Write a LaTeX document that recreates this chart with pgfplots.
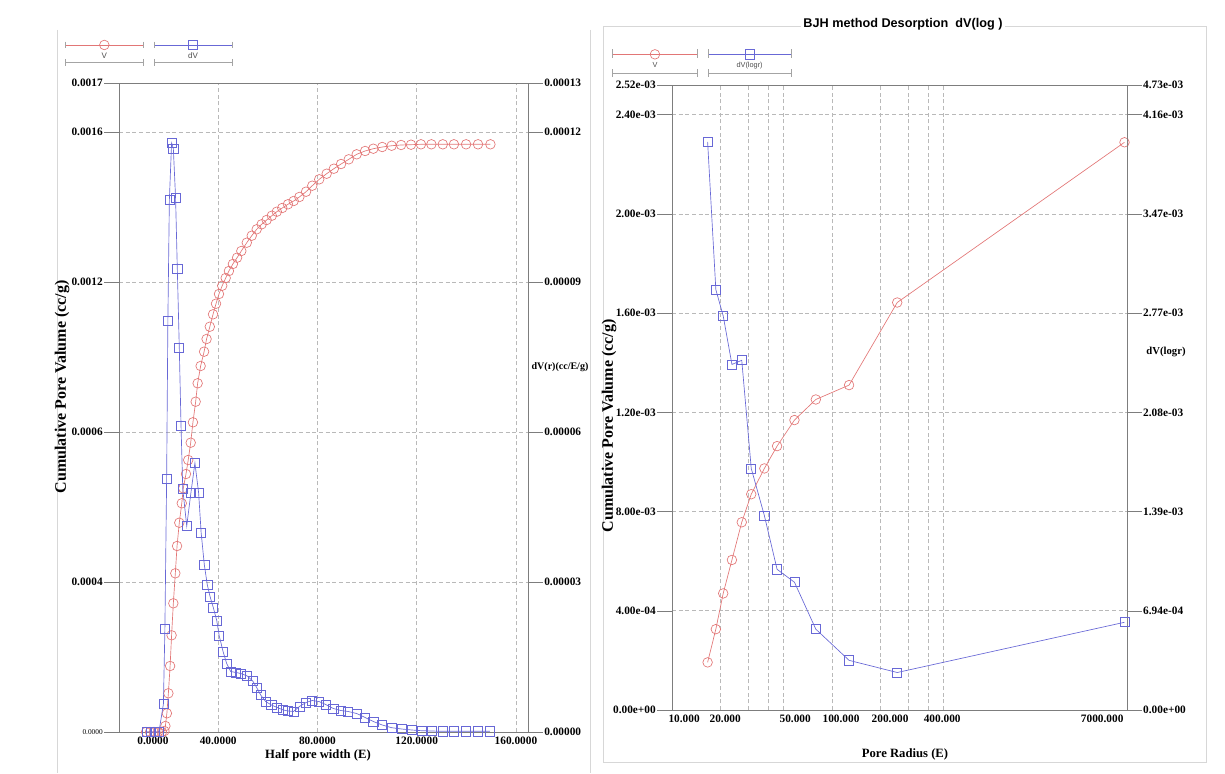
\documentclass[border=0pt]{standalone}
\usepackage{pgfplots}
\pgfplotsset{compat=1.18}
\usepackage{fontspec}
\setmainfont{Liberation Serif}
\newfontfamily\arial{Liberation Sans}
\definecolor{vred}{RGB}{226,118,118}
\definecolor{dvblue}{RGB}{104,104,214}
\definecolor{gridc}{RGB}{185,185,185}
\definecolor{framec}{RGB}{125,125,125}
\definecolor{boxc}{RGB}{215,215,215}

\pgfplotsset{
  panel/.style={
    scale only axis,
    scaled x ticks=false, scaled y ticks=false,
    axis line style={framec, line width=0.6pt},
    tick style={framec, line width=0.4pt},
    tick align=outside,
    major tick length=11pt,
    ticklabel style={font=\bfseries\fontsize{8.5}{10}\selectfont, text=black, inner sep=1pt},
    grid style={gridc, densely dashed, line width=0.45pt},
  },
  vstyle/.style={color=vred, line width=0.5pt, mark=o, mark size=3.6pt, mark options={line width=0.5pt}},
  dvstyle/.style={color=dvblue, line width=0.5pt, mark=square, mark size=3.4pt, mark options={line width=0.5pt}},
}

\begin{document}
\begin{tikzpicture}[x=0.75pt,y=-0.75pt]
\path (0,0) rectangle (1225,773);
% light panel borders
\draw[boxc, line width=0.6pt] (57,30) -- (57,773);
\draw[boxc, line width=0.6pt] (590,30) -- (590,773);
\draw[boxc, line width=0.6pt] (603,26) rectangle (1206,762);

% ---------------- LEFT PANEL ----------------
\begin{axis}[panel,
  at={(89.25pt,-549pt)}, anchor=south west,
  width=306.75pt, height=486.75pt,
  xmin=0, xmax=164.85, ymin=0, ymax=0.0017,
  xtick={40,80,120,160},
  xticklabels={40.0000,80.0000,120.0000,160.0000},
  extra x ticks={13.7}, extra x tick labels={0.0000},
  extra x tick style={grid=none},
  xtick style={draw=none},
  xticklabel style={yshift=8.5pt},
  ytick={0,0.0003929,0.0007858,0.0011787,0.0015716,0.0017},
  yticklabels={{\fontsize{5.5}{6}\selectfont\mdseries 0.0000},0.0004,0.0006,0.0012,0.0016,0.0017},
  xmajorgrids, ymajorgrids,
  legend columns=2,
  legend style={at={(-0.132,1.066)}, anchor=north west, draw=none, fill=none,
    inner sep=0pt, outer sep=0pt, /tikz/every even column/.append style={column sep=3.5pt}},
]
\addplot[vstyle, legend image code/.code={
   \draw[vred, line width=0.5pt] (0pt,0pt) -- (58.5pt,0pt);
   \draw[vred, line width=0.5pt, mark=o, mark size=3.6pt] plot coordinates {(29.25pt,0pt)};
   \draw[framec!70, line width=0.4pt] (0pt,-13pt) -- (58.5pt,-13pt);
   \draw[framec!70, line width=0.4pt] (0pt,2.5pt) -- (0pt,-2.5pt) (58.5pt,2.5pt) -- (58.5pt,-2.5pt);
   \draw[framec!70, line width=0.4pt] (0pt,-10.5pt) -- (0pt,-15.5pt) (58.5pt,-10.5pt) -- (58.5pt,-15.5pt);
   \node[font=\arial\fontsize{6}{7}\selectfont, text=black!70, inner sep=0pt] at (29.25pt,-8.5pt) {V};
 }] coordinates {
(10.9,0) (12.5,0) (14.1,0) (15.7,0) (17.3,0) (18.3,2.6e-6) (18.7,1.57e-5) (19.3,4.90e-5)
(19.9,1.014e-4) (20.6,1.729e-4) (21.2,2.533e-4) (21.9,3.371e-4) (22.7,4.157e-4) (23.4,4.872e-4)
(24.3,5.482e-4) (25.3,5.991e-4) (25.9,6.384e-4) (27.0,6.758e-4) (27.9,7.125e-4) (28.9,7.578e-4)
(29.8,8.112e-4) (30.9,8.652e-4) (31.7,9.134e-4) (32.9,9.587e-4) (34.3,9.962e-4) (35.3,1.0294e-3)
(36.6,1.0616e-3) (37.9,1.0941e-3) (39.1,1.1219e-3) (40.3,1.1473e-3) (41.6,1.1690e-3) (43.0,1.1892e-3)
(44.3,1.2075e-3) (45.9,1.2259e-3) (47.6,1.2424e-3) (49.3,1.2599e-3) (51.5,1.2817e-3) (53.5,1.3000e-3)
(55.5,1.3168e-3) (57.5,1.3299e-3) (59.5,1.3411e-3) (61.6,1.3524e-3) (63.6,1.3629e-3) (65.8,1.3726e-3)
(68.1,1.3823e-3) (70.4,1.3909e-3) (72.7,1.4014e-3) (75.4,1.4153e-3) (77.9,1.4310e-3) (80.7,1.4477e-3)
(83.7,1.4624e-3) (86.6,1.4755e-3) (89.5,1.4878e-3) (92.6,1.5001e-3) (95.8,1.5132e-3) (99.2,1.5219e-3)
(102.5,1.5279e-3) (106.1,1.5323e-3) (109.9,1.5357e-3) (113.7,1.5376e-3) (117.7,1.5384e-3) (121.7,1.5394e-3)
(125.9,1.5394e-3) (130.5,1.5394e-3) (135.0,1.5394e-3) (139.9,1.5394e-3) (144.7,1.5394e-3) (149.7,1.5394e-3)
};
\addlegendentry{}
\addlegendimage{dvstyle, legend image code/.code={
   \draw[dvblue, line width=0.5pt] (0pt,0pt) -- (58.5pt,0pt);
   \draw[dvblue, line width=0.5pt, mark=square, mark size=3.4pt] plot coordinates {(29.25pt,0pt)};
   \draw[framec!70, line width=0.4pt] (0pt,-13pt) -- (58.5pt,-13pt);
   \draw[framec!70, line width=0.4pt] (0pt,2.5pt) -- (0pt,-2.5pt) (58.5pt,2.5pt) -- (58.5pt,-2.5pt);
   \draw[framec!70, line width=0.4pt] (0pt,-10.5pt) -- (0pt,-15.5pt) (58.5pt,-10.5pt) -- (58.5pt,-15.5pt);
   \node[font=\arial\fontsize{6}{7}\selectfont, text=black!70, inner sep=0pt] at (29.25pt,-8.5pt) {dV};
 }}
\addlegendentry{}
\end{axis}

\begin{axis}[panel,
  at={(89.25pt,-549pt)}, anchor=south west,
  width=306.75pt, height=486.75pt,
  xmin=0, xmax=164.85, ymin=0, ymax=0.0001298,
  axis x line=none, axis y line*=right,
  ytick={0,0.00003,0.00006,0.00009,0.00012,0.0001298},
  yticklabels={0.00000,0.00003,0.00006,0.00009,0.00012,0.00013},
]
\addplot[dvstyle] coordinates {
(11.3,0) (12.9,0) (14.5,0) (16.1,0) (17.9,5.6e-6) (18.5,2.07e-5) (19.2,5.06e-5) (19.7,8.23e-5)
(20.3,1.064e-4) (21.2,1.178e-4) (21.9,1.167e-4) (22.8,1.069e-4) (23.5,9.27e-5) (24.3,7.69e-5)
(25.0,6.13e-5) (25.7,4.86e-5) (27.3,4.12e-5) (29.0,4.79e-5) (30.6,5.38e-5) (32.1,4.78e-5)
(33.1,3.99e-5) (34.4,3.34e-5) (35.6,2.94e-5) (36.7,2.71e-5) (38.0,2.49e-5) (39.4,2.23e-5)
(40.4,1.92e-5) (42.0,1.60e-5) (43.4,1.37e-5) (45.0,1.21e-5) (47.2,1.19e-5) (49.1,1.17e-5)
(51.7,1.12e-5) (53.9,1.02e-5) (55.5,8.9e-6) (57.1,7.4e-6) (59.1,6.1e-6) (61.4,5.4e-6)
(63.8,4.9e-6) (66.2,4.4e-6) (68.2,4.2e-6) (70.3,4.1e-6) (72.7,5.1e-6) (75.4,5.9e-6)
(77.9,6.3e-6) (80.6,6.1e-6) (83.3,5.5e-6) (86.4,4.7e-6) (89.4,4.3e-6) (92.4,4.1e-6)
(95.8,3.7e-6) (99.2,2.9e-6) (102.5,2.1e-6) (106.1,1.4e-6) (109.9,8.6e-7) (113.9,6e-7)
(118.0,4e-7) (122.0,2.6e-7) (126.0,2e-7) (130.5,1.4e-7) (135.1,1.4e-7) (139.9,1.4e-7)
(144.6,1.4e-7) (149.5,1.4e-7)
};
\end{axis}

\node[font=\bfseries\fontsize{12}{14}\selectfont, rotate=90] at (62,387) {Cumulative Pore Valume (cc/g)};
\node[font=\bfseries\fontsize{9.5}{11}\selectfont] at (318,755) {Half pore width (E)};
\node[font=\bfseries\fontsize{7.5}{9}\selectfont] at (560,367) {dV(r)(cc/E/g)};

% ---------------- RIGHT PANEL ----------------
\begin{axis}[panel,
  at={(504pt,-532.5pt)}, anchor=south west,
  width=341.25pt, height=468.75pt,
  xmode=log, xmin=10, xmax=7000, ymin=0, ymax=0.00252,
  log basis x=10,
  xtick={20,30,40,50,100,200,300,400,500},
  xticklabels={},
  extra x ticks={11.9,21.5,58.9,114,231,489,4897},
  extra x tick labels={10.000,20.000,50.000,100.000,200.000,400.000,7000.000},
  extra x tick style={grid=none},
  xtick style={draw=none},
  xticklabel style={yshift=8.5pt},
  ytick={0,0.0004,0.0008,0.0012,0.0016,0.0020,0.0024,0.00252},
  yticklabels={0.00e+00,4.00e-04,8.00e-03,1.20e-03,1.60e-03,2.00e-03,2.40e-03,2.52e-03},
  xmajorgrids, ymajorgrids,
  legend columns=2,
  legend style={at={(-0.132,1.058)}, anchor=north west, draw=none, fill=none,
    inner sep=0pt, outer sep=0pt, /tikz/every even column/.append style={column sep=3.5pt}},
]
\addplot[vstyle, legend image code/.code={
   \draw[vred, line width=0.5pt] (0pt,0pt) -- (64pt,0pt);
   \draw[vred, line width=0.5pt, mark=o, mark size=3.6pt] plot coordinates {(32pt,0pt)};
   \draw[framec!70, line width=0.4pt] (0pt,-14.5pt) -- (64pt,-14.5pt);
   \draw[framec!70, line width=0.4pt] (0pt,4pt) -- (0pt,-3pt) (64pt,4pt) -- (64pt,-3pt);
   \draw[framec!70, line width=0.4pt] (0pt,-11pt) -- (0pt,-17pt) (64pt,-11pt) -- (64pt,-17pt);
   \node[font=\arial\fontsize{5.5}{6}\selectfont, text=black!70, inner sep=0pt] at (32pt,-8.5pt) {V};
 }] coordinates {
(16.7,1.92e-4) (18.8,3.26e-4) (20.9,4.70e-4) (23.7,6.05e-4) (27.3,7.57e-4) (31.3,8.70e-4)
(37.8,9.74e-4) (45.4,1.064e-3) (58.3,1.169e-3) (79.3,1.252e-3) (128,1.310e-3) (256,1.643e-3)
(6750,2.289e-3)
};
\addlegendentry{}
\addlegendimage{dvstyle, legend image code/.code={
   \draw[dvblue, line width=0.5pt] (0pt,0pt) -- (62pt,0pt);
   \draw[dvblue, line width=0.5pt, mark=square, mark size=3.4pt] plot coordinates {(31pt,0pt)};
   \draw[framec!70, line width=0.4pt] (0pt,-14.5pt) -- (62pt,-14.5pt);
   \draw[framec!70, line width=0.4pt] (0pt,4pt) -- (0pt,-3pt) (62pt,4pt) -- (62pt,-3pt);
   \draw[framec!70, line width=0.4pt] (0pt,-11pt) -- (0pt,-17pt) (62pt,-11pt) -- (62pt,-17pt);
   \node[font=\arial\fontsize{5.5}{6}\selectfont, text=black!70, inner sep=0pt] at (31pt,-8.5pt) {dV(logr)};
 }}
\addlegendentry{}
\end{axis}

\begin{axis}[panel,
  at={(504pt,-532.5pt)}, anchor=south west,
  width=341.25pt, height=468.75pt,
  xmode=log, xmin=10, xmax=7000, ymin=0, ymax=0.004368,
  axis x line=none, axis y line*=right,
  ytick={0,0.00069333,0.00138667,0.00208,0.00277333,0.00346667,0.00416,0.004368},
  yticklabels={0.00e+00,6.94e-04,1.39e-03,2.08e-03,2.77e-03,3.47e-03,4.16e-03,4.73e-03},
]
\addplot[dvstyle] coordinates {
(16.7,3.97e-3) (18.8,2.938e-3) (20.9,2.754e-3) (23.7,2.415e-3) (27.3,2.444e-3) (31.3,1.688e-3)
(37.8,1.359e-3) (45.4,9.83e-4) (58.3,8.93e-4) (79.3,5.65e-4) (128,3.47e-4) (256,2.62e-4)
(6750,6.13e-4)
};
\end{axis}

\node[fill=white, inner xsep=2pt, inner ysep=1pt, font=\arial\bfseries\fontsize{9.5}{11}\selectfont] at (903,24) {BJH method Desorption\ \ dV(log )};
\node[font=\bfseries\fontsize{12}{14}\selectfont, rotate=90] at (609,426) {Cumulative Pore Valume (cc/g)};
\node[font=\bfseries\fontsize{9.5}{11}\selectfont] at (905,754) {Pore Radius (E)};
\node[font=\bfseries\fontsize{8}{10}\selectfont] at (1166,352) {dV(logr)};
\end{tikzpicture}
\end{document}
